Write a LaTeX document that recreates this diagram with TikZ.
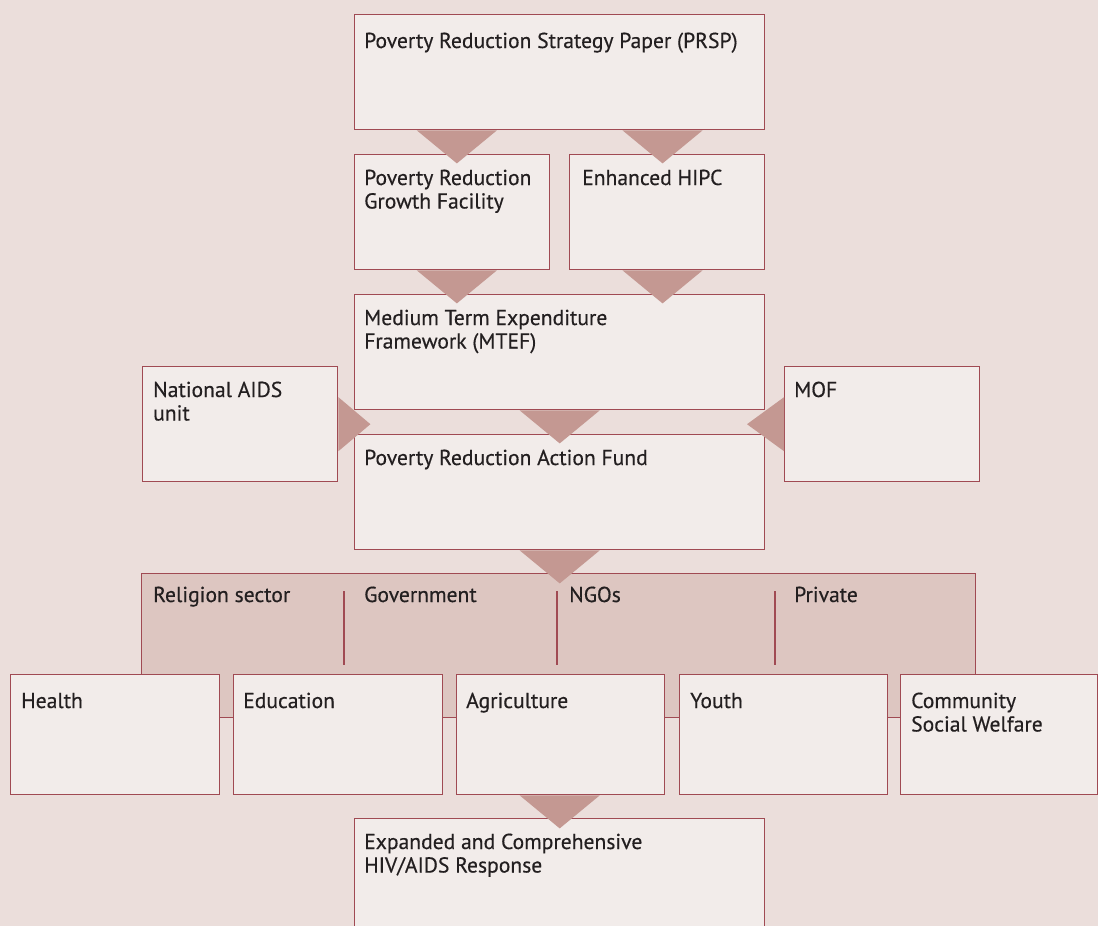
\documentclass[tikz,border=0pt]{standalone}
\usepackage{fontspec}
\setmainfont{PT Sans}[FakeBold=0.4]
\usetikzlibrary{calc}
\definecolor{bgcol}{HTML}{EBDEDB}
\definecolor{boxfill}{HTML}{F2ECEA}
\definecolor{edge}{HTML}{A04A53}
\definecolor{trifill}{HTML}{C49892}
\definecolor{bandfill}{HTML}{DDC6C1}
\definecolor{ink}{HTML}{231F20}
\begin{document}
\begin{tikzpicture}[x=1pt,y=-1pt,
  box/.style={draw=edge, fill=boxfill, line width=1.4pt, rectangle, inner sep=0pt, anchor=north west},
  bandbox/.style={draw=edge, fill=bandfill, line width=1.4pt, rectangle, inner sep=0pt, anchor=north west},
  txt/.style={anchor=base west, align=left, inner sep=0pt, font=\fontsize{21.6}{23.5}\selectfont, text=ink},
  tri/.style={fill=trifill, draw=none},
  divider/.style={draw=edge, line width=1.3pt}]
\clip (0,0) rectangle (1098,926);
\fill[bgcol] (0,0) rectangle (1098,926);

% sector band
\node[bandbox, minimum width=834pt, minimum height=144pt] (band) at (141,573) {};
\draw[divider] (344,591) -- (344,665);
\draw[divider] (557,591) -- (557,665);
\draw[divider] (775,591) -- (775,665);
\node[txt] (lrel) at (153,602) {Religion sector};
\node[txt] (lgov) at (364,602) {Government};
\node[txt] (lngo) at (569,602) {NGOs};
\node[txt] (lpri) at (794,602) {Private};

% boxes
\node[box, minimum width=410pt, minimum height=115pt] (prsp) at (354,14) {};
\node[box, minimum width=195pt, minimum height=115pt] (prgf) at (354,154) {};
\node[box, minimum width=195pt, minimum height=115pt] (hipc) at (569,154) {};
\node[box, minimum width=410pt, minimum height=115pt] (mtef) at (354,294) {};
\node[box, minimum width=410pt, minimum height=115pt] (praf) at (354,434) {};
\node[box, minimum width=195pt, minimum height=115pt] (nat) at (142,366) {};
\node[box, minimum width=195pt, minimum height=115pt] (mof) at (784,366) {};
\node[box, minimum width=209pt, minimum height=120pt] (health) at (10,674) {};
\node[box, minimum width=209pt, minimum height=120pt] (edu) at (233,674) {};
\node[box, minimum width=208pt, minimum height=120pt] (agri) at (456,674) {};
\node[box, minimum width=208pt, minimum height=120pt] (youth) at (679,674) {};
\node[box, minimum width=197pt, minimum height=120pt] (comm) at (900,674) {};
\node[box, minimum width=410pt, minimum height=130pt] (resp) at (354,818) {};

% texts (multi-line nodes: base = last line)
\node[txt] at (364,48) {Poverty Reduction Strategy Paper (PRSP)};
\node[txt] at (364,208.5) {Poverty Reduction\\Growth Facility};
\node[txt] at (582,185) {Enhanced HIPC};
\node[txt] at (364,348.5) {Medium Term Expenditure\\Framework (MTEF)};
\node[txt] at (364,465) {Poverty Reduction Action Fund};
\node[txt] at (153,420.5) {National AIDS\\unit};
\node[txt] at (794,397) {MOF};
\node[txt] at (21,708) {Health};
\node[txt] at (243,708) {Education};
\node[txt] at (466,708) {Agriculture};
\node[txt] at (690,708) {Youth};
\node[txt] at (911,731.5) {Community\\Social Welfare};
\node[txt] at (364,872.5) {Expanded and Comprehensive\\HIV/AIDS Response};

% triangular connectors
\coordinate (qa) at ($(prsp.south west)!0.25!(prsp.south east)$);
\coordinate (qb) at ($(prsp.south west)!0.75!(prsp.south east)$);
\newcommand\downtri[1]{\fill[tri] (#1) ++(-40,0) -- ++(80,0) -- ++(-40,33) -- cycle;}
\downtri{qa}
\downtri{qb}
\downtri{prgf.south -| qa}
\downtri{hipc.south -| qb}
\downtri{mtef.south}
\downtri{praf.south}
\downtri{agri.south -| resp.north}
\fill[tri] ([yshift=27pt]nat.east) -- ([yshift=-27pt]nat.east) -- ([xshift=32pt]nat.east) -- cycle;
\fill[tri] ([yshift=27pt]mof.west) -- ([yshift=-27pt]mof.west) -- ([xshift=-37pt]mof.west) -- cycle;
\end{tikzpicture}
\end{document}
